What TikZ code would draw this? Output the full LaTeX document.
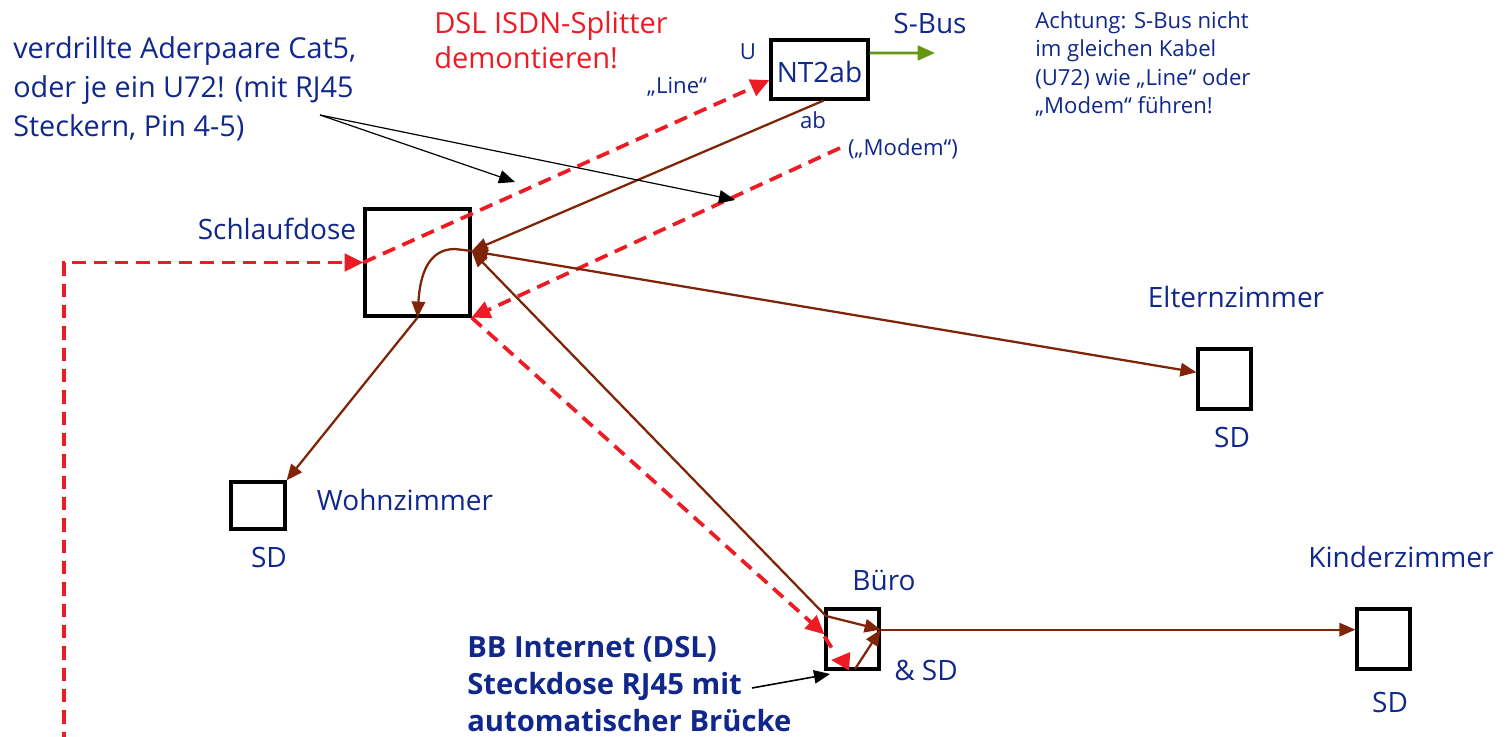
\documentclass[tikz,border=0pt]{standalone}
\usepackage{fontspec}
\setmainfont{Open Sans}
\usetikzlibrary{arrows.meta,calc}
\definecolor{tblue}{RGB}{16,40,140}
\definecolor{tred}{RGB}{237,28,36}
\definecolor{tbrown}{RGB}{128,36,8}
\definecolor{tgreen}{RGB}{100,150,20}
\tikzset{
  lab/.style={font=\fontsize{21}{28.5}\selectfont, text=tblue, inner sep=0pt},
  slab/.style={font=\fontsize{16.6}{21.3}\selectfont, text=tblue, inner sep=0pt},
  boxn/.style={draw=black, line width=2.4pt, inner sep=0pt},
  dsl/.style={draw=tred, line width=2.8pt, dash pattern=on 10pt off 6pt, -{Triangle[length=14pt,width=13pt]}},
  dslplain/.style={draw=tred, line width=2.8pt, dash pattern=on 10pt off 6pt},
  cable/.style={draw=tbrown, line width=1.7pt, -{Triangle[length=12pt,width=10pt]}},
  pointer/.style={draw=black, line width=0.9pt, -{Triangle[length=12pt,width=10pt]}},
}
\begin{document}
\begin{tikzpicture}[x=0.75pt,y=-0.75pt]
\useasboundingbox (0,0) rectangle (1512,737);
% boxes
\node[boxn, minimum width=78.75pt, minimum height=80.25pt] (sd) at (417.5,262.5) {};
\node[boxn, minimum width=72.75pt, minimum height=44.25pt, fill=white] (nt) at (819.5,69.5) {};
\node[lab] (ntl) at (819.5,72) {NT2ab};
\node[boxn, minimum width=40.5pt, minimum height=35.25pt] (wo) at (258,505.5) {};
\node[boxn, minimum width=39.75pt, minimum height=45pt] (el) at (1224.5,379) {};
\node[boxn, minimum width=39.75pt, minimum height=45pt] (bu) at (852.5,639) {};
\node[boxn, minimum width=39.75pt, minimum height=45pt] (ki) at (1383.5,639) {};
% labels
\node[lab] (l1) at (277,229) {Schlaufdose};
\node[lab] (l2) at (930,24) {S-Bus};
\node[slab] (l3) at (748,52) {U};
\node[slab] (l4) at (677,87) {„Line“};
\node[slab] (l5) at (813,120) {ab};
\node[slab] (l6) at (903,149) {(„Modem“)};
\node[lab] (l7) at (1236,297) {Elternzimmer};
\node[lab] (l8) at (1232,437) {SD};
\node[lab] (l9) at (405,500) {Wohnzimmer};
\node[lab] (l10) at (269,557) {SD};
\node[lab] (l11) at (884,580) {Büro};
\node[lab] (l12) at (926,670) {\& SD};
\node[lab] (l13) at (1401,557) {Kinderzimmer};
\node[lab] (l14) at (1390,702) {SD};
\node[lab, text=tred, align=left, anchor=west, font=\fontsize{21.8}{26.5}\selectfont] (l15) at (434,40) {DSL ISDN-Splitter\\demontieren!};
\node[lab, align=left, anchor=west, font=\fontsize{21.6}{29.5}\selectfont] (l16) at (13,89) {verdrillte Aderpaare Cat5,\\oder je ein U72! (mit RJ45\\Steckern, Pin 4-5)};
\node[slab, align=left, anchor=west] (l17) at (1035,64) {Achtung: S-Bus nicht\\im gleichen Kabel\\(U72) wie „Line“ oder\\„Modem“ führen!};
\node[lab, align=left, anchor=west, font=\bfseries\fontsize{21.9}{27.75}\selectfont] (l18) at (467,684) {BB Internet (DSL)\\Steckdose RJ45 mit\\automatischer Brücke};
% coordinates
\coordinate (c0) at (64,745);
\coordinate (hub) at ([yshift=8.6pt]sd.east);
\coordinate (modem) at (840,148);
\coordinate (bucorner) at (826,616);
\coordinate (buin) at ([yshift=7pt]bu.east);
\coordinate (bubot) at (855,669);
\coordinate (sbus) at (935,53);
\coordinate (ptr) at (320,115);
\coordinate (ptra) at (515,182);
\coordinate (ptrb) at (735,200);
\coordinate (ptrc) at (752,688);
\coordinate (ptrd) at (830,674);
\coordinate (rin) at (833,650);
\coordinate (rarr) at (846,661);
\coordinate (rtip) at (831,660);
% DSL red dashed
\draw[dsl] (c0) |- (sd.west);
\draw[dsl] (sd.west) -- ([yshift=-8pt]nt.west);
\draw[dsl] (modem) -- (sd.south east);
\draw[dsl] (sd.south east) -- ([yshift=3.5pt]bu.west);
\draw[dslplain] ([yshift=2pt]bu.west) -- (rin);
\draw[dsl, dash pattern=] (rarr) -- (rtip);
% cables
\draw[cable] ([xshift=3pt]nt.south) -- (hub);
\draw[cable, {Triangle[length=12pt,width=10pt]}-{Triangle[length=12pt,width=10pt]}] (hub) -- ([yshift=5pt]el.west);
\draw[cable, {Triangle[length=12pt,width=10pt]}-{Triangle[length=12pt,width=10pt]}] (hub) -- (bucorner) -- (buin);
\draw[cable] (bubot) -- (buin);
\draw[cable] (buin) -- ([yshift=7pt]ki.west);
\draw[cable] (hub) -- (455,249) .. controls (428,249) and (420,275) .. (sd.south);
\draw[cable] (sd.south) -- (wo.north east);
\draw[draw=tgreen, line width=2pt, -{Triangle[length=13pt,width=11pt]}] ([yshift=12.4pt]nt.east) -- (sbus);
% pointers
\draw[pointer] (ptr) -- (ptra);
\draw[pointer] (ptr) -- (ptrb);
\draw[pointer, line width=1.2pt] (ptrc) -- (ptrd);
\end{tikzpicture}
\end{document}
